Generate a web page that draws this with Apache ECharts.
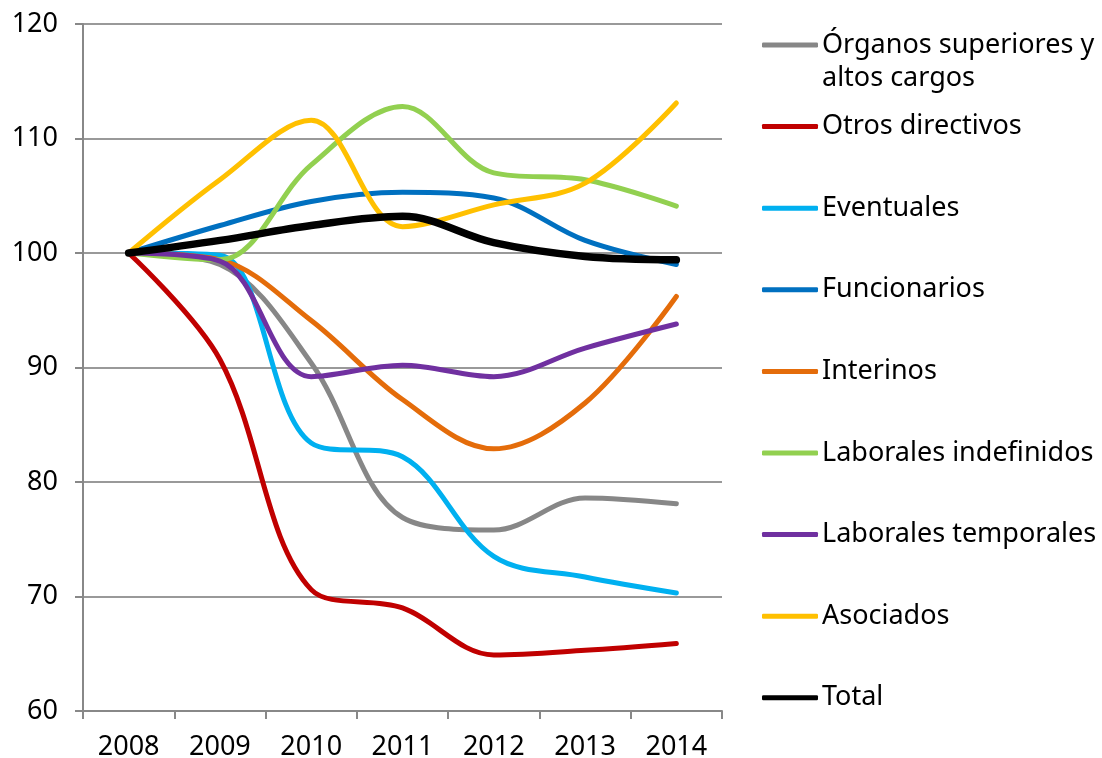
<!DOCTYPE html>
<html>
<head>
<meta charset="utf-8">
<script src="https://cdn.jsdelivr.net/npm/echarts@6/dist/echarts.min.js"></script>
<style>
  html, body { margin: 0; padding: 0; background: #fff; }
  #chart { width: 1102px; height: 758px; }
</style>
</head>
<body>
<div id="chart"></div>
<script>
// años
const years = ["2008", "2009", "2010", "2011", "2012", "2013", "2014"];

// índices (2008 = 100)
const organos = [100, 99.0, 90.4, 76.9, 75.8, 78.6, 78.1];
const otrosDirectivos = [100, 90.7, 70.6, 69.0, 64.9, 65.3, 65.9];
const eventuales = [100, 99.8, 83.4, 82.2, 73.5, 71.7, 70.3];
const funcionarios = [100, 102.4, 104.5, 105.3, 104.8, 101.1, 99.0];
const interinos = [100, 99.4, 94.1, 87.2, 82.9, 86.9, 96.2];
const laboralesIndef = [100, 99.4, 107.7, 112.8, 107.0, 106.4, 104.1];
const laboralesTemp = [100, 99.3, 89.2, 90.2, 89.2, 91.7, 93.8];
const asociados = [100, 106.4, 111.6, 102.3, 104.2, 106.1, 113.1];
const total = [100, 101.1, 102.4, 103.2, 100.9, 99.7, 99.4];

const seriesDefs = [
  { name: "Órganos superiores y altos cargos", data: organos, color: "#878787" },
  { name: "Otros directivos", data: otrosDirectivos, color: "#C00000" },
  { name: "Eventuales", data: eventuales, color: "#00B0F0" },
  { name: "Funcionarios", data: funcionarios, color: "#0070C0" },
  { name: "Interinos", data: interinos, color: "#E46C0A" },
  { name: "Laborales indefinidos", data: laboralesIndef, color: "#92D050" },
  { name: "Laborales temporales", data: laboralesTemp, color: "#7030A0" },
  { name: "Asociados", data: asociados, color: "#FFC000" },
  { name: "Total", data: total, color: "#000000" },
];

const font = "'Noto Sans', 'Open Sans', sans-serif";

// una leyenda por serie para fijar la posición vertical de cada una
const legends = seriesDefs.map((s, i) => {
  const iconY = 45 + i * 81.6;
  return {
    orient: "vertical",
    left: 762,
    top: iconY - 16,
    padding: 0,
    itemWidth: 56,
    itemHeight: 5,
    icon: "roundRect",
    selectedMode: false,
    data: [s.name],
    // el primer nombre se parte en dos líneas; la segunda va como texto aparte
    formatter: i === 0 ? () => "Órganos superiores y" : undefined,
    textStyle: {
      fontFamily: font,
      fontSize: 27,
      color: "#000",
      lineHeight: 32,
      padding: [0, 0, 0, -1],
    },
  };
});

const chart = echarts.init(document.getElementById("chart"));
chart.setOption({
  backgroundColor: "#fff",
  animation: false,
  grid: {
    left: 83,
    right: 380,
    top: 24,
    bottom: 47,
    outerBoundsMode: "none",
  },
  legend: legends,
  graphic: [
    {
      type: "text",
      left: 822,
      top: 65,
      style: { text: "altos cargos", font: "27px " + font, fill: "#000" },
    },
  ],
  xAxis: {
    type: "category",
    data: years,
    boundaryGap: true,
    axisLine: { lineStyle: { color: "#888", width: 2 } },
    axisTick: { show: true, length: 8, alignWithLabel: false, lineStyle: { color: "#888", width: 2 } },
    axisLabel: { fontFamily: font, fontSize: 27, color: "#000", margin: 23 },
  },
  yAxis: {
    type: "value",
    min: 60,
    max: 120,
    interval: 10,
    axisLine: { show: true, lineStyle: { color: "#888", width: 2 } },
    axisTick: { show: true, length: 8, lineStyle: { color: "#888", width: 2 } },
    axisLabel: { fontFamily: font, fontSize: 27, color: "#000", margin: 25 },
    splitLine: { lineStyle: { color: "#999", width: 2 } },
  },
  series: seriesDefs.map((s) => ({
    name: s.name,
    type: "line",
    data: s.data,
    smooth: 0.35,
    symbol: "none",
    color: s.color,
    lineStyle: { color: s.color, width: s.name === "Total" ? 7.5 : 5, cap: "round" },
  })),
});
</script>
</body>
</html>
